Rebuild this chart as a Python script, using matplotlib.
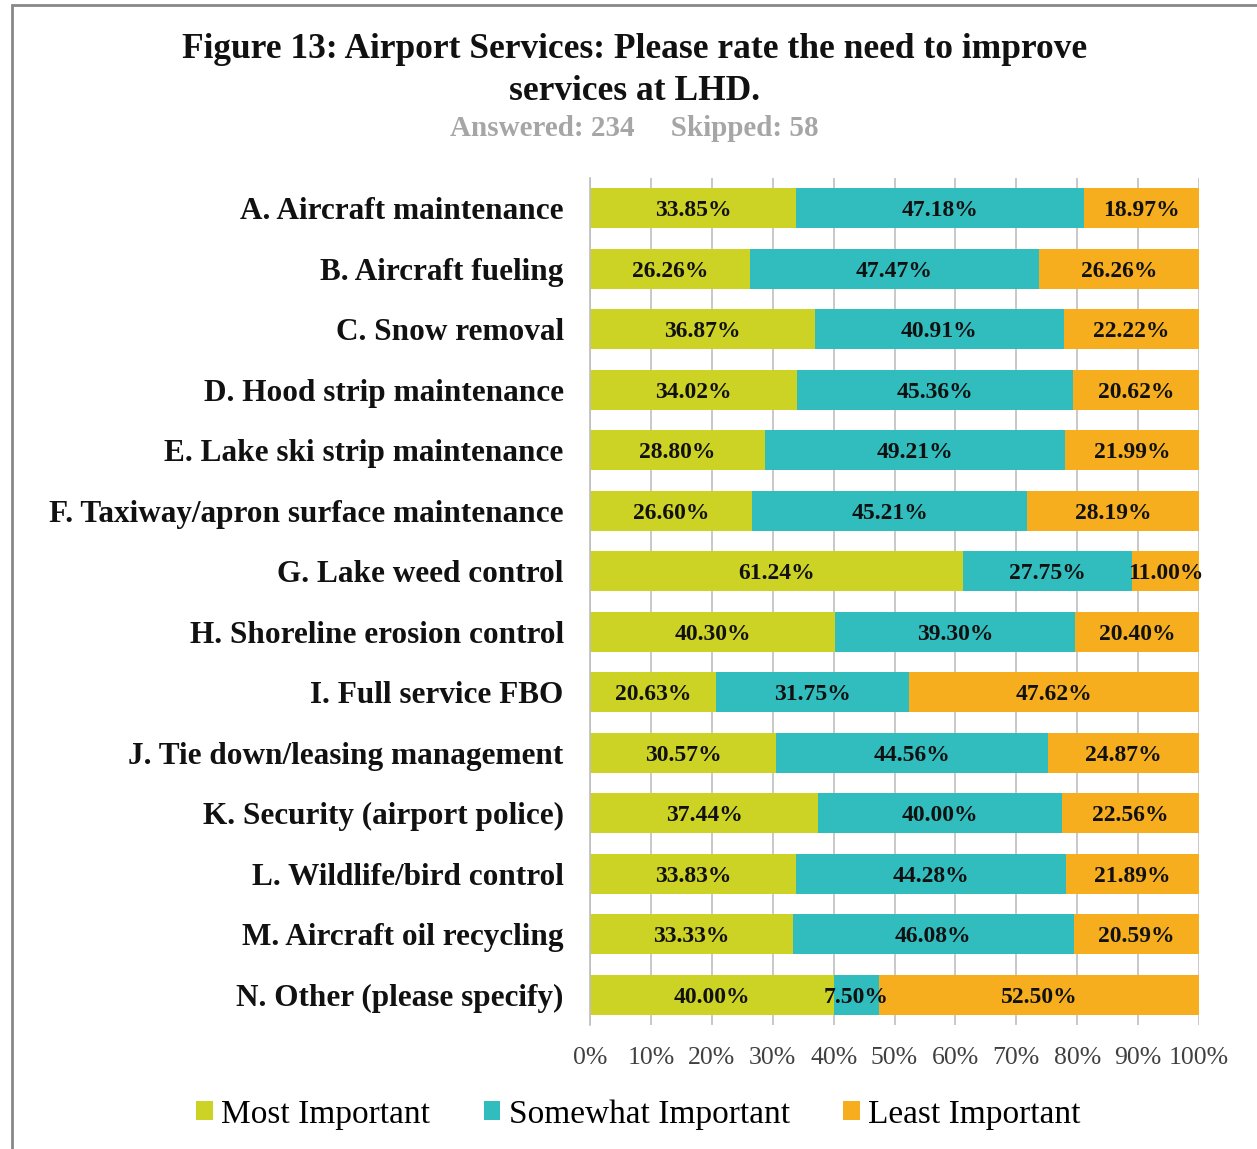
import matplotlib.pyplot as plt
from matplotlib.patches import Rectangle

plt.rcParams['font.family'] = ['Liberation Serif', 'DejaVu Serif']

# survey data
categories = [
    "A. Aircraft maintenance",
    "B. Aircraft fueling",
    "C. Snow removal",
    "D. Hood strip maintenance",
    "E. Lake ski strip maintenance",
    "F. Taxiway/apron surface maintenance",
    "G. Lake weed control",
    "H. Shoreline erosion control",
    "I. Full service FBO",
    "J. Tie down/leasing management",
    "K. Security (airport police)",
    "L. Wildlife/bird control",
    "M. Aircraft oil recycling",
    "N. Other (please specify)",
]
most = [33.85, 26.26, 36.87, 34.02, 28.80, 26.60, 61.24, 40.30, 20.63, 30.57, 37.44, 33.83, 33.33, 40.00]
somewhat = [47.18, 47.47, 40.91, 45.36, 49.21, 45.21, 27.75, 39.30, 31.75, 44.56, 40.00, 44.28, 46.08, 7.50]
least = [18.97, 26.26, 22.22, 20.62, 21.99, 28.19, 11.00, 20.40, 47.62, 24.87, 22.56, 21.89, 20.59, 52.50]
series_names = ["Most Important", "Somewhat Important", "Least Important"]
colors = ["#CDD325", "#31BDBE", "#F6AE1F"]
xticks = [0, 10, 20, 30, 40, 50, 60, 70, 80, 90, 100]

fig = plt.figure(figsize=(12.57, 11.49), dpi=100)
ax = fig.add_axes([0.4694, 0.1079, 0.4845, 0.7372])

y = list(range(len(categories)))
left = [0] * len(categories)
for name, vals, col in zip(series_names, [most, somewhat, least], colors):
    ax.barh(y, vals, left=left, height=0.66, color=col, label=name, zorder=2)
    for yi, l, v in zip(y, left, vals):
        ax.text(l + v / 2, yi, f"{v:.2f}%", ha='center', va='center_baseline',
                fontsize=17, fontweight='bold', color='#111111', zorder=3)
    left = [a + b for a, b in zip(left, vals)]

ax.set_xlim(0, 100)
ax.set_ylim(len(categories) - 0.5, -0.5)
ax.set_xticks(xticks)
ax.set_xticklabels([f"{t}%" for t in xticks], fontsize=18.5, color='#404040')
ax.set_yticks(y)
ax.set_yticklabels(categories, fontsize=22.5, fontweight='bold', color='#111111')
ax.tick_params(axis='y', length=0, pad=19)
ax.tick_params(axis='x', length=0, pad=16)
ax.grid(axis='x', color='#BFBFBF', linewidth=1.2, zorder=0)
for s in ['top', 'bottom', 'right']:
    ax.spines[s].set_visible(False)
ax.spines['left'].set_color('#BFBFBF')
ax.spines['left'].set_linewidth(1.2)

fig.text(0.505, 0.957, "Figure 13: Airport Services: Please rate the need to improve",
         ha='center', va='center', fontsize=25.5, fontweight='bold', color='#111111')
fig.text(0.505, 0.920, "services at LHD.",
         ha='center', va='center', fontsize=25.5, fontweight='bold', color='#111111')
fig.text(0.505, 0.888, "Answered: 234     Skipped: 58",
         ha='center', va='center', fontsize=21, fontweight='bold', color='#A6A6A6')

fig.legend(loc='center', bbox_to_anchor=(0.508, 0.030), ncol=3, frameon=False,
           fontsize=24, handlelength=0.5, handleheight=0.5, handletextpad=0.25,
           columnspacing=1.6)

# frame around the chart
fig.patches.append(Rectangle((12 / 1257, -0.05), 1.1, 1.05 - 5 / 1149,
                             transform=fig.transFigure, fill=False,
                             edgecolor='#888888', linewidth=2))

fig.savefig("out.png", dpi=100)
